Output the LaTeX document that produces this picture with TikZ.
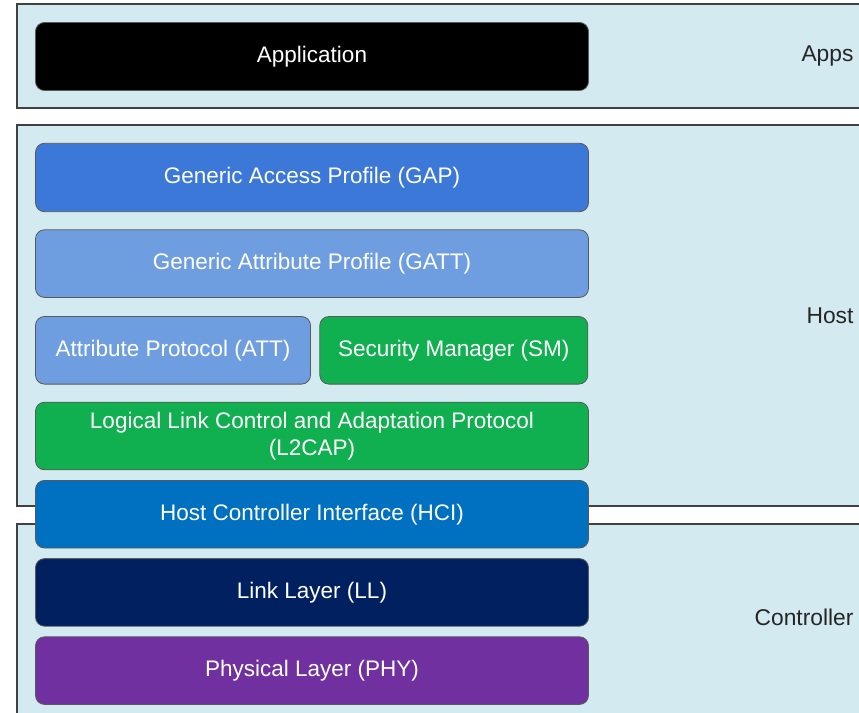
\documentclass[tikz,border=0pt]{standalone}
\usepackage{fontspec}
\setmainfont{Liberation Sans}
\usepackage{xcolor}
\usepackage{tikz}
\usetikzlibrary{positioning}
\definecolor{corPainel}{RGB}{211,234,240}
\definecolor{corGAP}{RGB}{60,120,216}
\definecolor{corGATT}{RGB}{111,158,224}
\definecolor{corVerde}{RGB}{16,176,80}
\definecolor{corHCI}{RGB}{0,112,192}
\definecolor{corLL}{RGB}{0,32,96}
\definecolor{corPHY}{RGB}{112,48,160}

\begin{document}
\begin{tikzpicture}[x=1pt, y=1pt,
      panel/.style={fill=corPainel, draw=black!75, line width=1.6pt},
      paneltxt/.style={anchor=east, text=black!85, font=\fontsize{22.8}{26}\selectfont},
      layer/.style={rectangle, rounded corners=9pt, draw=black!65, line width=0.8pt,
        minimum width=553pt, minimum height=67.6pt, align=center, inner sep=2pt,
        text=white, font=\fontsize{22.5}{27}\selectfont}]
    \useasboundingbox (0,0) rectangle (859,-712);
    \clip (0,0) rectangle (859,-712);
    % painéis de fundo
    \draw[panel] (17,-4) rectangle (880,-108);
    \draw[panel] (17,-125) rectangle (880,-506);
    \draw[panel] (17,-524) rectangle (880,-740);
    \node[paneltxt] (apps) at (857,-56) {Apps};
    \node[paneltxt] (host) at (857,-316) {Host};
    \node[paneltxt] (ctrl) at (857,-617) {Controller};
    % camadas
    \node[layer, fill=black, minimum height=68pt] (app) at (312,-56.5) {Application};
    \node[layer, fill=corGAP, minimum height=68.4pt] (gap) at (312,-177.5) {Generic Access Profile (GAP)};
    \node[layer, fill=corGATT, below=17.3pt of gap] (gatt) {Generic Attribute Profile (GATT)};
    \node[layer, fill=corGATT, minimum width=275pt, below=18.3pt of gatt.south west, anchor=north west] (att) {Attribute Protocol (ATT)};
    \node[layer, fill=corVerde, minimum width=268pt, right=8.5pt of att] (sm) {Security Manager (SM)};
    \node[layer, fill=corVerde, below=17.3pt of att.south west, anchor=north west] (l2cap) {Logical Link Control and Adaptation Protocol\\(L2CAP)};
    \node[layer, fill=corHCI, below=9.8pt of l2cap] (hci) {Host Controller Interface (HCI)};
    \node[layer, fill=corLL, below=9.8pt of hci] (ll) {Link Layer (LL)};
    \node[layer, fill=corPHY, below=9.8pt of ll] (phy) {Physical Layer (PHY)};
  \end{tikzpicture}
\end{document}
